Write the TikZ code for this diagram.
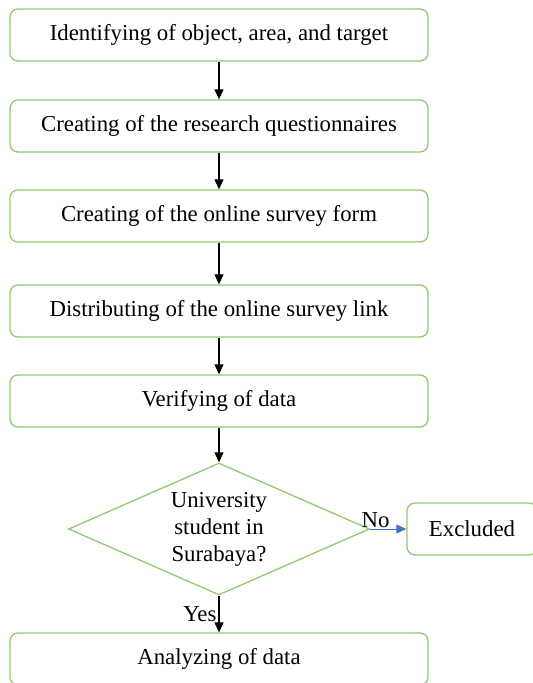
\documentclass[tikz,border=0pt]{standalone}
\usepackage{fontspec}
\setmainfont{Liberation Serif}
\usetikzlibrary{shapes.geometric}
\usetikzlibrary{arrows.meta}
\definecolor{boxGreen}{RGB}{146,200,112}
\definecolor{noBlue}{RGB}{68,114,196}
\tikzset{geometry/.style={line width=1.1pt}}
\tikzset{stepBox/.style={draw=boxGreen, line width=1.3pt, rounded corners=8pt, fill=white, minimum width=418pt, minimum height=52pt, inner sep=0pt}}
\tikzset{decisionBox/.style={diamond, draw=boxGreen, line width=1.3pt, fill=white, minimum width=301pt, minimum height=132pt, inner sep=0pt, aspect=2.28, align=center}}
\tikzset{flowArrow/.style={geometry, -{Triangle[length=10pt,width=9pt]}}}

\begin{document}
\begin{tikzpicture}[x=1pt,y=-1pt,font=\fontsize{22.8}{27}\selectfont]
\useasboundingbox (0,0) rectangle (533,683);
% process steps
\node[stepBox] (identify) at (219,35) {Identifying of object, area, and target};
\node[stepBox] (questionnaire) at (219,126) {Creating of the research questionnaires};
\node[stepBox] (form) at (219,216) {Creating of the online survey form};
\node[stepBox] (distribute) at (219,311) {Distributing of the online survey link};
\node[stepBox] (verify) at (219,401) {Verifying of data};
%
% decision
\node[decisionBox] (student) at (219,529) {University\\student in\\Surabaya?};
\node[stepBox, minimum width=130pt] (excluded) at (472,529) {Excluded};
\node[stepBox] (analyze) at (219,659) {Analyzing of data};
%
% connectors
\draw[flowArrow] (identify) -- (questionnaire);
\draw[flowArrow] (questionnaire) -- (form);
\draw[flowArrow] (form) -- (distribute);
\draw[flowArrow] (distribute) -- (verify);
\draw[flowArrow] (verify) -- (student);
\draw[flowArrow, draw=noBlue, fill=noBlue, line width=1pt] (student.east) -- (excluded.west) node[pos=0.15, above, inner sep=1pt] {No};
\draw[flowArrow] (student) -- (analyze) node[midway, left, inner sep=2pt] {Yes};
\end{tikzpicture}
\end{document}
